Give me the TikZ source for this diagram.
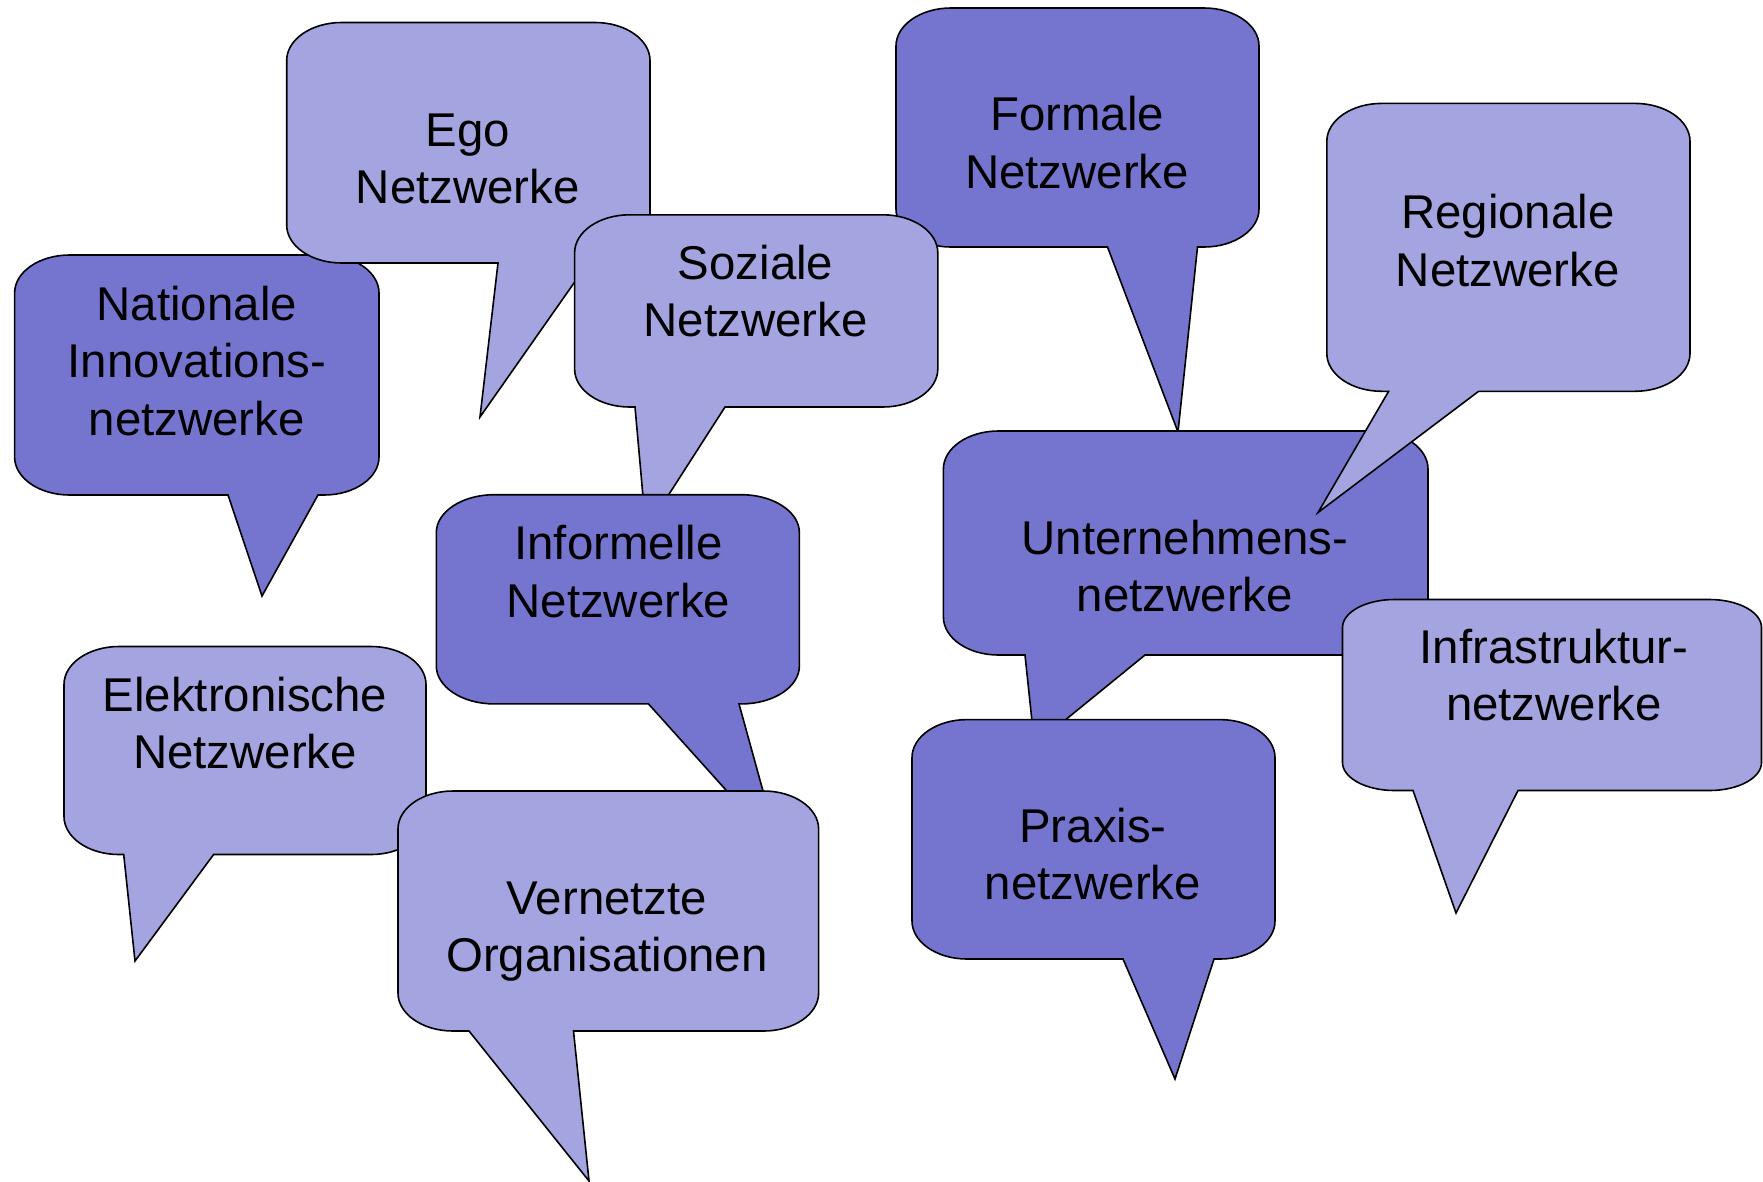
\documentclass[tikz,border=0pt]{standalone}
\usepackage{fontspec}
\setmainfont{Liberation Sans}
\definecolor{dk}{RGB}{117,117,208}
\definecolor{lt}{RGB}{164,164,224}
\newcommand\rx{55}
\newcommand\ry{38}
% #1 style, #2 L, #3 T, #4 R, #5 B, #6 tail base x1, #7 tip x, #8 tip y, #9 tail base x2
\newcommand\bubble[9]{%
 \draw[#1] (#2,#3+\ry) -- (#2,#5-\ry)
   .. controls (#2,#5-0.4477*\ry) and (#2+0.4477*\rx,#5) .. (#2+\rx,#5)
   -- (#6,#5) -- (#7,#8) -- (#9,#5) -- (#4-\rx,#5)
   .. controls (#4-0.4477*\rx,#5) and (#4,#5-0.4477*\ry) .. (#4,#5-\ry)
   -- (#4,#3+\ry)
   .. controls (#4,#3+0.4477*\ry) and (#4-0.4477*\rx,#3) .. (#4-\rx,#3)
   -- (#2+\rx,#3)
   .. controls (#2+0.4477*\rx,#3) and (#2,#3+0.4477*\ry) .. (#2,#3+\ry) -- cycle;}
\tikzset{
  dkb/.style={fill=dk,draw=black,line width=1.6pt,line join=miter},
  ltb/.style={fill=lt,draw=black,line width=1.6pt,line join=miter},
  lbl/.style={font=\fontsize{47.4}{57.3}\selectfont,align=center,inner sep=0pt,text=black}
}
\begin{document}
\begin{tikzpicture}[x=1pt,y=-1pt]
\useasboundingbox (0,0) rectangle (1763,1181);
% Nationale
\bubble{dkb}{14.6}{255}{379}{495}{228}{262}{596}{318}
\node[lbl] (nat) at (196.8,361) {Nationale\\Innovations-\\netzwerke};
% Ego
\bubble{ltb}{286.7}{22.5}{650}{263}{498}{480}{417}{588}
\node[lbl] (ego) at (467.8,159) {Ego\\Netzwerke};
% Formale
\bubble{dkb}{896}{8}{1259}{247}{1107.5}{1178}{432}{1197.5}
\node[lbl] (for) at (1077,142.5) {Formale\\Netzwerke};
% Soziale
\bubble{ltb}{574.6}{214.8}{937.8}{407}{635}{646}{530}{725}
\node[lbl] (soz) at (755.6,291) {Soziale\\Netzwerke};
% Informelle
\renewcommand\rx{58}
\bubble{dkb}{436.3}{494.7}{799.4}{703.9}{648.5}{779}{849}{739}
\node[lbl] (inf) at (618.4,571.5) {Informelle\\Netzwerke};
\renewcommand\rx{55}
% Elektronische
\bubble{ltb}{64}{646.5}{426}{854.5}{123.7}{135}{961}{213.6}
\node[lbl] (ele) at (245,723) {Elektronische\\Netzwerke};
% Vernetzte
\bubble{ltb}{398}{791}{818.6}{1031}{469}{589}{1181}{573.5}
\node[lbl] (ver) at (607,931.5) {Vernetzte\\Organisationen};
% Unternehmens
\bubble{dkb}{943.4}{431}{1428}{655}{1025}{1034.5}{745}{1145}
\node[lbl] (unt) at (1185,566) {Unternehmens-\\netzwerke};
% Regionale
\bubble{ltb}{1326.8}{103.4}{1690}{391.3}{1388.6}{1318}{512.5}{1478.6}
\node[lbl] (reg) at (1507.8,240.5) {Regionale\\Netzwerke};
% Infrastruktur
\renewcommand\rx{52}
\renewcommand\ry{28}
\bubble{ltb}{1342.5}{599.5}{1761.5}{790.5}{1413}{1456}{913}{1518}
\node[lbl] (ifr) at (1554,675) {Infrastruktur-\\netzwerke};
\renewcommand\rx{55}
\renewcommand\ry{38}
% Praxis
\bubble{dkb}{912}{719.6}{1275}{959}{1123}{1175}{1079}{1214}
\node[lbl] (pra) at (1093,854) {Praxis-\\netzwerke};
\end{tikzpicture}
\end{document}
